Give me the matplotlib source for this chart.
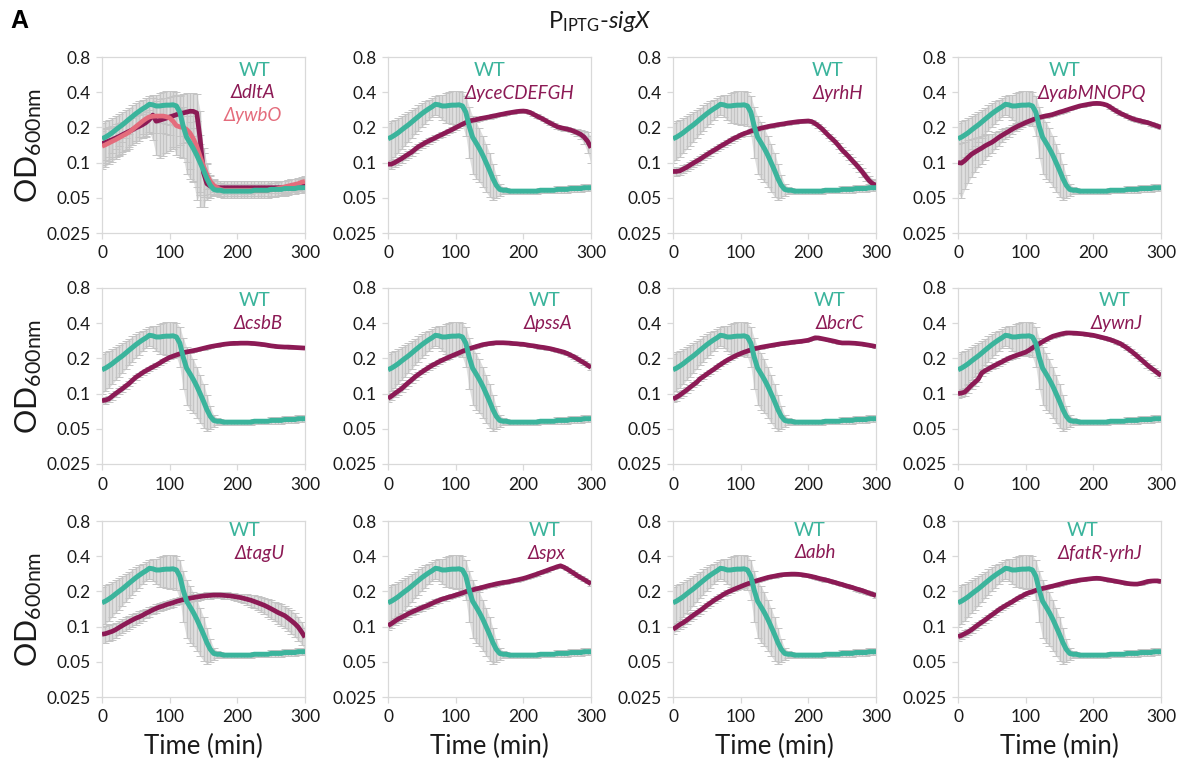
import matplotlib
matplotlib.use("Agg")
import matplotlib.pyplot as plt
import numpy as np

plt.rcParams['font.family'] = ['Lato', 'Open Sans', 'DejaVu Sans']
plt.rcParams['mathtext.fontset'] = 'custom'
plt.rcParams['mathtext.rm'] = 'Lato'
plt.rcParams['mathtext.it'] = 'Lato:italic'

# ---------------- data ----------------
time_min = list(range(0, 301, 5))

wt_mean = [0.160, 0.165, 0.172, 0.180, 0.190, 0.200, 0.210, 0.222, 0.235, 0.248, 0.262, 0.275,
           0.288, 0.300, 0.315, 0.312, 0.305, 0.305, 0.308, 0.310, 0.310, 0.312, 0.305, 0.270,
           0.205, 0.165, 0.148, 0.132, 0.116, 0.100, 0.086, 0.073, 0.064, 0.059, 0.058, 0.058,
           0.057, 0.057, 0.057, 0.057, 0.057, 0.057, 0.057, 0.057, 0.057, 0.058, 0.058, 0.058,
           0.058, 0.058, 0.059, 0.059, 0.059, 0.059, 0.060, 0.060, 0.060, 0.060, 0.061, 0.061, 0.061]
wt_sd = [0.060, 0.060, 0.060, 0.060, 0.060, 0.060, 0.060, 0.060, 0.060, 0.060, 0.060, 0.060,
         0.058, 0.055, 0.058, 0.065, 0.075, 0.085, 0.092, 0.098, 0.102, 0.100, 0.100, 0.100,
         0.095, 0.085, 0.075, 0.064, 0.054, 0.044, 0.035, 0.025, 0.014, 0.007, 0.004,
         0.003, 0.003, 0.003, 0.003, 0.003, 0.003, 0.003, 0.003, 0.003, 0.003, 0.003, 0.003,
         0.003, 0.003, 0.003,
         0.004, 0.004, 0.004, 0.004, 0.004, 0.004, 0.004, 0.004, 0.004, 0.004, 0.004]

dltA = [0.145, 0.149, 0.153, 0.157, 0.162, 0.167, 0.173, 0.179, 0.185, 0.191, 0.198, 0.204,
        0.211, 0.220, 0.233, 0.255, 0.226, 0.230, 0.235, 0.240, 0.246, 0.251, 0.257, 0.262,
        0.266, 0.270, 0.275, 0.274, 0.266, 0.160, 0.082, 0.066, 0.063, 0.062, 0.061,
        0.061, 0.061, 0.061, 0.061, 0.061, 0.061, 0.061, 0.061, 0.061, 0.061, 0.061, 0.061,
        0.061, 0.061, 0.061, 0.061, 0.061, 0.061, 0.061, 0.061,
        0.062, 0.063, 0.063, 0.064, 0.064, 0.065]
dltA_sd = [0.05, 0.05, 0.05, 0.05, 0.05, 0.05, 0.05, 0.05, 0.05, 0.05, 0.05, 0.05, 0.05, 0.05, 0.05,
           0.10, 0.11, 0.12, 0.12, 0.12, 0.12, 0.12, 0.12, 0.12, 0.12, 0.12, 0.12, 0.12, 0.12,
           0.118, 0.04, 0.015,
           0.009, 0.009, 0.009, 0.009, 0.009, 0.009, 0.009, 0.009, 0.009, 0.009, 0.009, 0.009,
           0.009, 0.009, 0.009, 0.009, 0.009, 0.009, 0.009, 0.009, 0.009, 0.009, 0.009, 0.009,
           0.009, 0.009, 0.009, 0.009, 0.009]

ywbO = [0.138, 0.142, 0.147, 0.152, 0.157, 0.163, 0.169, 0.175, 0.182, 0.192, 0.203, 0.214,
        0.226, 0.237, 0.246, 0.249, 0.250, 0.250, 0.250, 0.247, 0.241, 0.226, 0.207, 0.202,
        0.200, 0.192, 0.179, 0.160, 0.138, 0.113, 0.093, 0.079, 0.069, 0.064, 0.061, 0.059,
        0.058, 0.058, 0.058, 0.058, 0.058, 0.058, 0.058, 0.058, 0.058, 0.058, 0.058, 0.058,
        0.058, 0.058, 0.059, 0.059, 0.060, 0.061, 0.062, 0.063, 0.064, 0.065, 0.066, 0.068, 0.069]
ywbO_sd = [0.05, 0.05, 0.05, 0.05, 0.05, 0.05, 0.05, 0.05, 0.05, 0.05, 0.05, 0.05, 0.05,
           0.07, 0.07, 0.07, 0.07, 0.07, 0.07, 0.07, 0.07,
           0.09, 0.09, 0.09, 0.09, 0.09, 0.09, 0.09, 0.09,
           0.06, 0.04, 0.02,
           0.008, 0.008, 0.008, 0.008, 0.008, 0.008, 0.008, 0.008, 0.008, 0.008, 0.008, 0.008,
           0.008, 0.008, 0.008, 0.008, 0.008, 0.008, 0.008, 0.008, 0.008, 0.008, 0.008, 0.008,
           0.008, 0.008, 0.008, 0.008, 0.008]

yceCDEFGH = [0.097, 0.097, 0.100, 0.104, 0.108, 0.113, 0.118, 0.123, 0.130, 0.137, 0.142, 0.148,
             0.153, 0.158, 0.163, 0.169, 0.174, 0.180, 0.186, 0.192, 0.199, 0.206, 0.213, 0.220,
             0.227, 0.230, 0.233, 0.237, 0.240, 0.243, 0.246, 0.250, 0.253, 0.257, 0.260, 0.264,
             0.267, 0.270, 0.273, 0.275, 0.276, 0.274, 0.268, 0.259, 0.250, 0.242, 0.234, 0.225,
             0.217, 0.210, 0.203, 0.199, 0.196, 0.193, 0.190, 0.185, 0.180, 0.174, 0.165, 0.152, 0.134]
yceCDEFGH_sd = [0.008] * 55 + [0.010, 0.012, 0.015, 0.020, 0.030, 0.035]

yrhH = [0.084, 0.084, 0.085, 0.088, 0.091, 0.095, 0.099, 0.103, 0.107, 0.112, 0.117, 0.122,
        0.127, 0.132, 0.138, 0.143, 0.149, 0.155, 0.161, 0.166, 0.172, 0.177, 0.181, 0.186,
        0.190, 0.193, 0.197, 0.200, 0.203, 0.206, 0.208, 0.211, 0.213, 0.215, 0.218, 0.220,
        0.222, 0.224, 0.225, 0.226, 0.227, 0.224, 0.216, 0.206, 0.195, 0.182, 0.170, 0.160,
        0.150, 0.139, 0.128, 0.120, 0.112, 0.104, 0.097, 0.090, 0.083, 0.076, 0.070, 0.066, 0.064]

yabMNOPQ = [0.100, 0.099, 0.104, 0.111, 0.118, 0.123, 0.128, 0.133, 0.139, 0.144, 0.149, 0.156,
            0.164, 0.171, 0.178, 0.185, 0.193, 0.200, 0.207, 0.213, 0.220, 0.226, 0.232, 0.238,
            0.243, 0.247, 0.251, 0.254, 0.258, 0.264, 0.270, 0.275, 0.281, 0.287, 0.293, 0.299,
            0.305, 0.309, 0.313, 0.317, 0.320, 0.321, 0.320, 0.316, 0.310, 0.298, 0.285, 0.274,
            0.264, 0.256, 0.248, 0.241, 0.235, 0.231, 0.227, 0.223, 0.220, 0.215, 0.210, 0.205, 0.200]
yabMNOPQ_sd = [0.045, 0.049, 0.045, 0.044, 0.042, 0.040, 0.037, 0.035, 0.033, 0.030, 0.028,
               0.026, 0.024, 0.022, 0.020, 0.018, 0.016, 0.015, 0.014, 0.013, 0.012] + [0.008] * 40

csbB = [0.087, 0.088, 0.090, 0.095, 0.100, 0.105, 0.110, 0.116, 0.122, 0.130, 0.138, 0.144,
        0.151, 0.157, 0.163, 0.169, 0.175, 0.182, 0.190, 0.197, 0.204, 0.209, 0.214, 0.219,
        0.224, 0.227, 0.230, 0.233, 0.236, 0.240, 0.244, 0.248, 0.252, 0.255, 0.258, 0.261,
        0.264, 0.266, 0.268, 0.269, 0.269, 0.270, 0.270, 0.270, 0.269, 0.268, 0.266, 0.264,
        0.262, 0.259, 0.256, 0.254, 0.252, 0.251, 0.250, 0.250, 0.249, 0.248, 0.247, 0.246, 0.245]

pssA = [0.091, 0.095, 0.100, 0.105, 0.110, 0.117, 0.124, 0.131, 0.139, 0.146, 0.153, 0.160,
        0.167, 0.174, 0.180, 0.187, 0.193, 0.199, 0.205, 0.211, 0.217, 0.223, 0.230, 0.236,
        0.242, 0.247, 0.252, 0.257, 0.262, 0.265, 0.268, 0.270, 0.272, 0.272, 0.272, 0.271,
        0.270, 0.268, 0.267, 0.265, 0.264, 0.261, 0.258, 0.256, 0.253, 0.250, 0.248, 0.245,
        0.242, 0.238, 0.234, 0.230, 0.226, 0.220, 0.213, 0.206, 0.198, 0.190, 0.183, 0.175, 0.167]

bcrC = [0.090, 0.093, 0.097, 0.102, 0.107, 0.113, 0.119, 0.125, 0.134, 0.140, 0.147, 0.154,
        0.161, 0.169, 0.177, 0.185, 0.193, 0.200, 0.207, 0.214, 0.220, 0.226, 0.231, 0.237,
        0.242, 0.245, 0.249, 0.252, 0.255, 0.258, 0.261, 0.264, 0.267, 0.269, 0.271, 0.274,
        0.276, 0.278, 0.280, 0.283, 0.286, 0.293, 0.300, 0.299, 0.295, 0.291, 0.287, 0.283,
        0.279, 0.274, 0.271, 0.271, 0.271, 0.270, 0.269, 0.267, 0.265, 0.262, 0.259, 0.256, 0.252]

ywnJ = [0.100, 0.101, 0.103, 0.110, 0.118, 0.125, 0.133, 0.150, 0.157, 0.163, 0.169, 0.175,
        0.181, 0.187, 0.194, 0.200, 0.206, 0.211, 0.216, 0.221, 0.226, 0.235, 0.246, 0.256,
        0.267, 0.278, 0.289, 0.299, 0.309, 0.315, 0.321, 0.326, 0.330, 0.330, 0.329, 0.328,
        0.326, 0.324, 0.321, 0.318, 0.315, 0.310, 0.305, 0.300, 0.295, 0.289, 0.282, 0.275,
        0.267, 0.256, 0.245, 0.233, 0.221, 0.209, 0.197, 0.186, 0.175, 0.166, 0.158, 0.150, 0.143]

tagU = [0.086, 0.087, 0.089, 0.091, 0.094, 0.098, 0.102, 0.106, 0.110, 0.114, 0.118, 0.121,
        0.125, 0.130, 0.134, 0.139, 0.143, 0.147, 0.150, 0.154, 0.157, 0.160, 0.164, 0.167,
        0.170, 0.172, 0.175, 0.177, 0.179, 0.181, 0.183, 0.184, 0.185, 0.186, 0.186, 0.186,
        0.185, 0.184, 0.183, 0.181, 0.179, 0.177, 0.174, 0.171, 0.168, 0.164, 0.160, 0.156,
        0.152, 0.147, 0.142, 0.137, 0.132, 0.128, 0.124, 0.118, 0.112, 0.106, 0.099, 0.090, 0.081]
tagU_sd = [0.014] * 13 + [0.012] * 28 + [0.014, 0.016, 0.018, 0.020, 0.021, 0.022, 0.023, 0.024,
                                          0.025, 0.026, 0.026, 0.027, 0.027, 0.027, 0.027, 0.026,
                                          0.025, 0.023, 0.020, 0.017]

spx = [0.102, 0.106, 0.111, 0.116, 0.120, 0.124, 0.129, 0.133, 0.137, 0.141, 0.145, 0.149,
       0.153, 0.158, 0.163, 0.167, 0.172, 0.175, 0.179, 0.182, 0.186, 0.190, 0.194, 0.199,
       0.203, 0.206, 0.210, 0.213, 0.217, 0.221, 0.225, 0.228, 0.232, 0.235, 0.238, 0.240,
       0.243, 0.247, 0.250, 0.254, 0.258, 0.263, 0.269, 0.275, 0.281, 0.288, 0.295, 0.302,
       0.310, 0.317, 0.325, 0.331, 0.322, 0.310, 0.297, 0.285, 0.272, 0.262, 0.252, 0.242, 0.232]

abh = [0.095, 0.099, 0.104, 0.108, 0.113, 0.119, 0.125, 0.131, 0.137, 0.144, 0.152, 0.159,
       0.167, 0.174, 0.181, 0.189, 0.196, 0.202, 0.208, 0.214, 0.220, 0.226, 0.232, 0.237,
       0.243, 0.248, 0.253, 0.258, 0.263, 0.267, 0.270, 0.274, 0.277, 0.279, 0.280, 0.281,
       0.281, 0.280, 0.278, 0.275, 0.272, 0.268, 0.264, 0.259, 0.255, 0.251, 0.247, 0.242,
       0.238, 0.233, 0.229, 0.224, 0.220, 0.216, 0.211, 0.207, 0.203, 0.198, 0.193, 0.189, 0.184]

fatR_yrhJ = [0.082, 0.084, 0.087, 0.090, 0.094, 0.099, 0.104, 0.109, 0.114, 0.120, 0.126, 0.132,
             0.139, 0.145, 0.151, 0.157, 0.163, 0.170, 0.177, 0.183, 0.190, 0.195, 0.199, 0.204,
             0.208, 0.212, 0.215, 0.219, 0.222, 0.226, 0.230, 0.234, 0.238, 0.241, 0.244, 0.247,
             0.250, 0.252, 0.254, 0.256, 0.258, 0.259, 0.258, 0.255, 0.252, 0.249, 0.246, 0.243,
             0.240, 0.237, 0.234, 0.232, 0.231, 0.231, 0.234, 0.238, 0.243, 0.245, 0.246, 0.246, 0.243]

# per-mutant (approx. constant) error for mutants with small spread
small_sd = {'csbB': 0.006, 'pssA': 0.007, 'bcrC': 0.006, 'ywnJ': 0.008, 'spx': 0.008,
            'abh': 0.008, 'fatR-yrhJ': 0.006, 'yrhH': 0.007}

panels = [
    [('dltA', dltA, dltA_sd), ('ywbO', ywbO, ywbO_sd)],
    [('yceCDEFGH', yceCDEFGH, yceCDEFGH_sd)],
    [('yrhH', yrhH, None)],
    [('yabMNOPQ', yabMNOPQ, yabMNOPQ_sd)],
    [('csbB', csbB, None)],
    [('pssA', pssA, None)],
    [('bcrC', bcrC, None)],
    [('ywnJ', ywnJ, None)],
    [('tagU', tagU, tagU_sd)],
    [('spx', spx, None)],
    [('abh', abh, None)],
    [('fatR-yrhJ', fatR_yrhJ, None)],
]

y_ticks = [0.025, 0.05, 0.1, 0.2, 0.4, 0.8]
y_tick_labels = ['0.025', '0.05', '0.1', '0.2', '0.4', '0.8']
x_ticks = [0, 100, 200, 300]

# ---------------- style ----------------
WT_COL = '#3bb49c'
MUT_COLS = ['#8c1a55', '#e46c7c']
BAR_COL = '#c4c4c4'
FILL_COL = '#e0e0e0'
CAP_COL = '#8e8e8e'
SPINE_COL = '#d9d9d9'
TXT = '#1a1a1a'

# label centre x (figure px) for WT / mutant labels per panel
label_x = [(255, 253), (490, 520), (828, 838), (1065, 1092),
           (255, 258), (545, 548), (830, 840), (1115, 1117),
           (245, 260), (545, 547), (810, 815), (1083, 1100)]
label_rows_y = [(70, 93, 116), (301, 323, 0), (531, 553, 0)]

W, H = 1179, 765
fig = plt.figure(figsize=(W / 100, H / 100), dpi=100)

col_left = [102, 388, 673, 958]
row_top = [57, 288, 521]
ax_w, ax_h = 203, 176


def draw_err(ax, x, y, e):
    y = np.asarray(y, float)
    e = np.broadcast_to(np.asarray(e, float), y.shape)
    ax.fill_between(x, y - e, y + e, color=FILL_COL, lw=0, zorder=0.5)
    _, caps, bars = ax.errorbar(x, y, yerr=e, fmt='none', ecolor=BAR_COL, elinewidth=1.0,
                                capsize=3.0, capthick=0.7, zorder=1)
    for cl in caps:
        cl.set_color(CAP_COL)
        cl.set_zorder(1.5)


t = np.array(time_min)
for i, muts in enumerate(panels):
    r, c = divmod(i, 4)
    ax = fig.add_axes([col_left[c] / W, (H - row_top[r] - ax_h) / H, ax_w / W, ax_h / H])
    ax.set_yscale('log')
    ax.set_ylim(0.025, 0.8)
    ax.set_xlim(0, 300)
    draw_err(ax, t, wt_mean, wt_sd)
    for j, (name, vals, sd) in enumerate(muts):
        err = sd if sd is not None else small_sd[name]
        draw_err(ax, t, vals, err)
    for j, (name, vals, sd) in enumerate(muts):
        ax.plot(t, vals, color=MUT_COLS[j], lw=3.4, zorder=3 + j, solid_capstyle='butt')
    ax.plot(t, wt_mean, color=WT_COL, lw=3.6, zorder=5, solid_capstyle='butt')

    ax.set_yticks(y_ticks)
    ax.set_yticklabels(y_tick_labels)
    ax.yaxis.set_minor_locator(matplotlib.ticker.NullLocator())
    ax.set_xticks(x_ticks)
    for s in ax.spines.values():
        s.set_color(SPINE_COL)
        s.set_linewidth(0.9)
    ax.tick_params(axis='both', colors=SPINE_COL, labelcolor=TXT, labelsize=12.5,
                   length=4, width=0.9, direction='out')
    ax.tick_params(axis='y', pad=4)
    ax.tick_params(axis='x', pad=5)

    wx, mx = label_x[i]
    ry = label_rows_y[r]
    fig.text(wx / W, 1 - ry[0] / H, 'WT', color=WT_COL, fontsize=14, ha='center', va='center')
    for j, (name, vals, sd) in enumerate(muts):
        fig.text(mx / W, 1 - ry[1 + j] / H, '\u0394' + name, color=MUT_COLS[j], fontsize=13.5,
                 style='italic', ha='center', va='center')

    if c == 0:
        ax.set_ylabel(r'OD$_{\mathregular{600nm}}$', fontsize=22, color=TXT, labelpad=2)
    if r == 2:
        ax.set_xlabel('Time (min)', fontsize=18.5, color=TXT, labelpad=6)

fig.text(600 / W, 1 - 22 / H, r'P$_{\mathregular{IPTG}}$-$\mathit{sigX}$', fontsize=17,
         ha='center', va='center', color=TXT)
fig.text(10 / W, 1 - 21 / H, 'A', fontsize=18, fontweight='bold', ha='left', va='center',
         family=['Liberation Sans', 'DejaVu Sans'])

fig.savefig('out.png', dpi=100, facecolor='white')
